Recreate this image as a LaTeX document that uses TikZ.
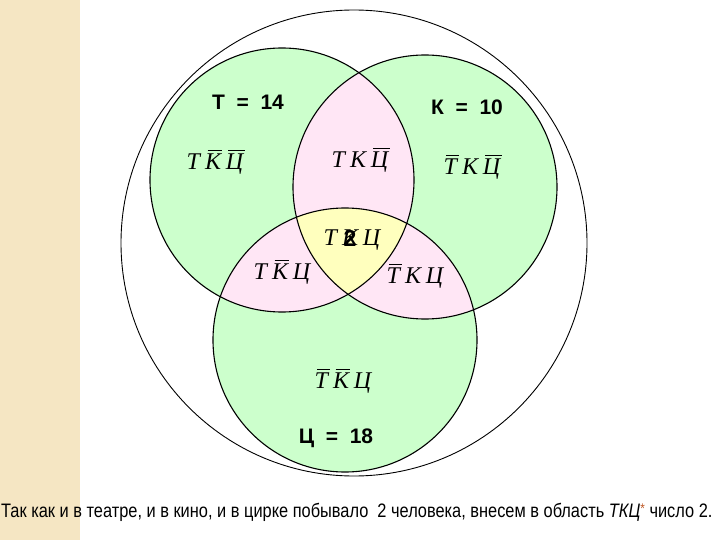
\documentclass[tikz,border=0pt]{standalone}
\usepackage{fontspec}
\setmainfont{Liberation Serif}
\newfontfamily\arialfont{Liberation Sans}
\newfontfamily\narrowfont[FakeStretch=0.84]{Liberation Sans}
\definecolor{setgreen}{RGB}{204,255,204}
\definecolor{setpink}{RGB}{255,230,245}
\definecolor{setyellow}{RGB}{255,255,190}
\definecolor{stripbeige}{RGB}{245,230,195}
\definecolor{starbrown}{RGB}{190,90,40}
% lettre barree
\newcommand{\ov}[1]{\setbox0\hbox{#1}\rlap{\raisebox{\dimexpr\ht0+2.5pt}{\kern2.5pt\rule{\dimexpr\wd0-1pt}{0.7pt}}}\box0}
\newcommand{\gap}{\kern5pt}
\begin{document}
\begin{tikzpicture}[
        x=1pt, y=-1pt,
        setline/.style={draw=black, line width=1.1pt},
        region/.style={font=\itshape\fontsize{24}{24}\selectfont, inner sep=0pt},
        setname/.style={font=\arialfont\bfseries\fontsize{21}{21}\selectfont, inner sep=0pt}
    ]
        \useasboundingbox (0,0) rectangle (720,540);

        % --- Bande de gauche ---
        \fill[stripbeige] (0,0) rectangle (80,540);

        % --- Cercle englobant ---
        \draw[line width=0.9pt] (354,243) circle (233pt);

        % --- Les trois ensembles ---
        \coordinate (ct) at (282,180);
        \coordinate (ck) at (425,187);
        \coordinate (cc) at (345,340);
        \fill[setgreen] (ct) circle (132pt);
        \fill[setgreen] (ck) circle (132pt);
        \fill[setgreen] (cc) circle (132pt);

        % intersections deux a deux
        \begin{scope}
            \clip (ct) circle (132pt);
            \fill[setpink] (ck) circle (132pt);
            \fill[setpink] (cc) circle (132pt);
        \end{scope}
        \begin{scope}
            \clip (ck) circle (132pt);
            \fill[setpink] (cc) circle (132pt);
        \end{scope}

        % intersection des trois
        \begin{scope}
            \clip (ct) circle (132pt);
            \clip (ck) circle (132pt);
            \fill[setyellow] (cc) circle (132pt);
        \end{scope}

        \draw[setline] (ct) circle (132pt);
        \draw[setline] (ck) circle (132pt);
        \draw[setline] (cc) circle (132pt);

        % --- Noms des ensembles ---
        \node[setname] (nt) at (248,102) {Т\ \ =\ \ 14};
        \node[setname] (nk) at (467,107) {К\ \ =\ \ 10};
        \node[setname] (nc) at (336,438) {Ц\ \ =\ \ 18};

        % --- Regions ---
        \node[region] (rt) at (215,162) {Т\gap\ov{К}\gap\ov{Ц}};
        \node[region] (rtk) at (360,160) {Т\gap К\gap\ov{Ц}};
        \node[region] (rk) at (472,167) {\ov{Т}\gap К\gap\ov{Ц}};
        \node[region] (rtkc) at (352,240) {Т\gap К\gap Ц};
        \node[setname, font=\arialfont\bfseries\fontsize{23}{23}\selectfont] (two) at (350,238) {2};
        \node[region] (rtc) at (282,272) {Т\gap\ov{К}\gap Ц};
        \node[region] (rkc) at (415,276) {\ov{Т}\gap К\gap Ц};
        \node[region] (rc) at (343,381) {\ov{Т}\gap\ov{К}\gap Ц};

        % --- Texte du bas ---
        \node[anchor=west, inner sep=0pt, font=\narrowfont\fontsize{19.5}{19.5}\selectfont] (note) at (1,512)
            {Так как и в театре, и в кино, и в цирке побывало\ \ 2 человека, внесем в область \textit{ТКЦ}\textcolor{starbrown}{\raisebox{4pt}{\fontsize{14}{14}\selectfont*}} число 2.};
    \end{tikzpicture}
\end{document}
